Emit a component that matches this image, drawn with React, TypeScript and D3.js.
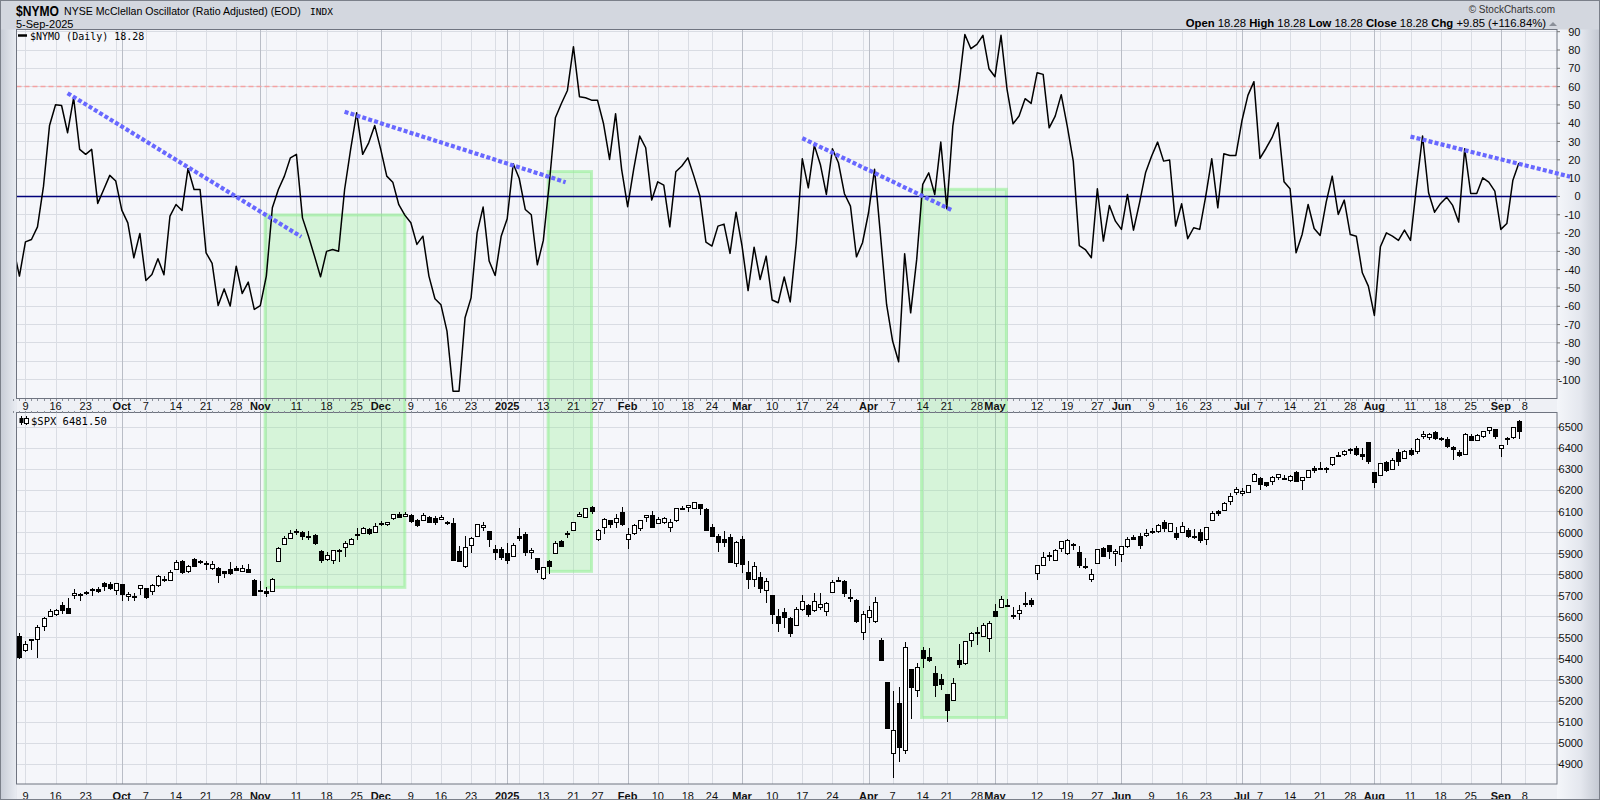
import React from 'react';
import * as d3 from 'd3';

// ---------- DATA ----------
const holidays = ['2024-11-28','2024-12-25','2025-01-01','2025-01-09','2025-01-20','2025-02-17','2025-04-18','2025-05-26','2025-06-19','2025-07-04','2025-09-01'];
const firstDay = '2024-09-05';
const lastAxisDay = '2025-09-08';

// NYSE McClellan Oscillator, one value per trading day from 5-Sep-2024 to 5-Sep-2025
const nymo = [
  -28,-43.5,-24.8,-23.5,-16.6,5.6,38.8,50.1,49.7,34.8,53.9,25.7,23,25.7,-3.8,3.8,11.5,8.4,-7.5,-14.4,
  -33.5,-20.2,-45.9,-42.6,-34,-42.8,-10.7,-4.4,-7.7,15.3,3.8,3.8,-30.8,-36.6,-59.6,-50.5,-59.9,-38.1,-53,-46.8,
  -61.7,-59.6,-43.5,-6.2,3.8,11.1,21.1,23,-11.7,-21.7,-32.6,-43.9,-30,-29,-29.9,3.8,25.7,45.7,23,29.3,
  38.8,25.7,11.1,7.8,-4.5,-10.2,-14.4,-26.2,-21.7,-43.5,-55.9,-59.2,-73.6,-106.4,-106.4,-66.3,-55.4,-19.9,-5.8,-35.3,
  -43.2,-21.7,-12.2,17.9,9.8,-7.1,-10,-37.3,-24,7.5,43,50.8,57.9,81.8,54.5,53.9,52.6,52.5,39.7,20.2,
  45.2,14.8,-5.6,14.8,33,26.6,-2,8,6.2,-16.6,13.5,16.6,21.1,11.1,0.2,-25,-27.1,-16.2,-15.1,-31.1,
  -8.6,-27.1,-51.4,-27.7,-45.4,-32.6,-56.6,-58.1,-44,-57.6,-25.3,20.6,4.7,27.9,17.5,1.1,26,18.4,1.5,-5.3,
  -33,-25.3,-8.9,14.8,-21.7,-59,-79,-90.3,-31.3,-63.6,-34.4,6.6,12.9,1.1,29.7,-6.7,38.4,60.3,88.5,80.7,
  83.1,88,69.8,65.4,88,58.5,39.7,43.9,53.4,50.8,67.6,66.7,37.5,43.9,55.6,38.4,19.3,-26.8,-29,-33.5,
  4.2,-24.4,-4.9,-13.5,-18,1.1,-18.4,-3.5,12.9,22,29.7,19.3,19.9,-16.2,-4,-23.1,-17.1,-18,0.2,20.6,
  -6.2,23.3,22.4,22.4,41.2,55.2,62.7,20.8,26.2,32.1,40.3,8,4.2,-30.8,-20.8,-4.4,-17.5,-21.3,-3.1,11.1,
  -9.8,-2,-20.8,-21.7,-41.7,-49,-65,-27.5,-19.9,-21.7,-24,-18.4,-24,5.6,33,2,-8.6,-3.8,-0.4,-4.9,
  -14,26,1.6,1.6,10.2,7.8,2.9,-18,-14.8,8.9,18.28
];

// S&P 500 daily [open, high, low, close]
const spxSep24 = [[5520,5551,5487,5503],[5507,5522,5402,5408],[5442,5484,5434,5471],[5490,5497,5442,5496],[5496,5560,5406,5554],[5557,5600,5535,5596],[5603,5636,5601,5626],[5615,5636,5604,5633],[5655,5670,5615,5634],[5641,5690,5615,5618],[5703,5733,5686,5713],[5709,5715,5674,5702],[5711,5722,5702,5718],[5727,5735,5698,5732],[5733,5741,5712,5722],[5762,5767,5721,5745],[5755,5764,5727,5738],[5726,5763,5704,5762]];
const spxOct24 = [[5757,5758,5674,5709],[5698,5720,5676,5709],[5698,5714,5674,5700],[5737,5753,5702,5751],[5737,5739,5683,5696],[5725,5755,5704,5751],[5752,5797,5744,5793],[5778,5796,5764,5780],[5775,5822,5775,5815],[5829,5871,5829,5859],[5867,5871,5804,5815],[5816,5846,5808,5843],[5876,5879,5840,5842],[5860,5872,5850,5865],[5857,5866,5824,5853],[5832,5863,5821,5851],[5834,5835,5762,5797],[5817,5817,5784,5809],[5827,5862,5799,5808],[5833,5843,5823,5823],[5819,5847,5811,5832],[5827,5850,5811,5813],[5775,5780,5703,5705]];
const spxNov24 = [[5724,5772,5723,5729],[5725,5741,5696,5712],[5722,5783,5722,5782],[5864,5933,5864,5929],[5947,5983,5946,5973],[5976,6012,5976,5996],[6008,6018,5987,6001],[6003,6010,5966,5984],[5985,6008,5965,5985],[5990,5993,5942,5949],[5912,5916,5854,5871],[5874,5908,5866,5894],[5870,5919,5850,5917],[5917,5920,5860,5917],[5930,5962,5883,5949],[5944,5973,5944,5970],[5992,6021,5963,5987],[6000,6025,5992,6021],[6015,6021,5989,5999],[6004,6045,6004,6032]];
const spxDec24 = [[6040,6053,6033,6047],[6042,6052,6033,6050],[6069,6089,6061,6086],[6089,6099,6074,6075],[6081,6100,6079,6090],[6083,6088,6048,6053],[6058,6065,6027,6034],[6060,6092,6060,6085],[6074,6079,6051,6051],[6068,6078,6035,6051],[6064,6085,6059,6074],[6052,6057,6036,6050],[6048,6070,5867,5872],[5913,5935,5865,5867],[5842,5982,5832,5931],[5940,5978,5902,5974],[5985,6040,5981,6040],[6025,6049,6007,6037],[6006,6006,5932,5971],[5921,5941,5869,5907],[5920,5930,5869,5882]];
const spxJan25 = [[5904,5949,5851,5869],[5891,5949,5888,5942],[5982,6022,5961,5975],[5993,6001,5890,5909],[5910,5927,5874,5918],[5880,5881,5809,5827],[5783,5839,5773,5836],[5863,5871,5805,5842],[5905,5961,5905,5950],[5962,5964,5935,5937],[5993,6007,5976,5997],[6014,6051,6006,6049],[6081,6100,6077,6086],[6076,6119,6075,6119],[6121,6128,6088,6101],[5970,6018,5962,6012],[6026,6070,5994,6067],[6058,6062,6024,6039],[6050,6087,6024,6071],[6096,6121,6031,6041]];
const spxFeb25 = [[5969,6022,5923,5994],[5998,6042,5990,6038],[6020,6062,6008,6061],[6073,6084,6051,6084],[6083,6101,6020,6026],[6046,6073,6046,6066],[6049,6076,6042,6068],[6025,6063,6004,6052],[6060,6116,6051,6115],[6115,6127,6107,6115],[6121,6130,6100,6129],[6118,6147,6111,6144],[6134,6134,6084,6117],[6114,6115,6009,6013],[6027,6043,5977,5983],[5982,5992,5908,5955],[5970,6009,5932,5956],[5981,5994,5858,5862],[5857,5959,5837,5955]];
const spxMar25 = [[5968,5986,5810,5849],[5811,5865,5732,5778],[5782,5860,5742,5843],[5788,5812,5711,5739],[5726,5783,5666,5770],[5705,5705,5565,5614],[5604,5636,5529,5572],[5624,5642,5546,5599],[5594,5598,5505,5522],[5563,5645,5563,5639],[5635,5704,5628,5675],[5655,5659,5599,5615],[5632,5715,5622,5675],[5646,5711,5633,5663],[5630,5670,5603,5668],[5718,5775,5718,5767],[5772,5787,5764,5777],[5771,5775,5694,5712],[5695,5732,5670,5693],[5679,5685,5572,5581],[5527,5627,5488,5612]];
const spxApr25 = [[5598,5650,5573,5633],[5580,5695,5572,5671],[5492,5500,5390,5397],[5292,5292,5069,5074],[4953,5246,4835,5062],[5193,5267,4910,4982],[4966,5481,4949,5457],[5353,5353,5115,5268],[5255,5381,5220,5363],[5441,5459,5358,5406],[5411,5450,5386,5396],[5335,5367,5220,5276],[5305,5328,5255,5283],[5232,5233,5101,5158],[5207,5309,5207,5288],[5395,5470,5359,5376],[5381,5485,5371,5485],[5489,5528,5455,5525],[5529,5554,5468,5529],[5508,5571,5505,5561],[5500,5581,5433,5569]];
const spxMay25 = [[5626,5659,5598,5604],[5645,5700,5645,5687],[5656,5684,5646,5650],[5607,5648,5588,5607],[5616,5655,5587,5631],[5663,5720,5645,5664],[5679,5691,5646,5660],[5808,5844,5777,5844],[5847,5906,5845,5886],[5895,5907,5867,5892],[5869,5924,5868,5916],[5929,5958,5907,5958],[5902,5968,5895,5964],[5944,5953,5919,5940],[5910,5938,5830,5844],[5842,5878,5825,5843],[5782,5829,5767,5802],[5854,5924,5854,5922],[5925,5930,5886,5889],[5939,5943,5875,5912],[5903,5922,5843,5912]];
const spxJun25 = [[5897,5937,5862,5936],[5938,5981,5925,5970],[5978,5990,5966,5971],[5985,5999,5921,5940],[5987,6016,5978,6000],[6004,6021,5994,6006],[6009,6043,6000,6038],[6049,6059,6002,6022],[6010,6045,6003,6045],[5997,6026,5964,5977],[6005,6050,6005,6033],[6013,6024,5975,5982],[5986,6018,5972,5981],[6005,6018,5953,5967],[5970,6026,5943,6025],[6061,6101,6055,6092],[6104,6109,6080,6092],[6107,6146,6104,6141],[6151,6188,6132,6173],[6193,6215,6178,6205]];
const spxJul25 = [[6187,6211,6176,6198],[6193,6227,6188,6227],[6246,6284,6240,6279],[6259,6262,6202,6230],[6241,6242,6217,6226],[6243,6269,6227,6263],[6263,6280,6248,6280],[6256,6275,6252,6260],[6251,6272,6242,6269],[6288,6291,6241,6244],[6250,6266,6201,6264],[6263,6298,6263,6297],[6305,6315,6285,6297],[6305,6336,6303,6305],[6307,6310,6281,6309],[6326,6360,6317,6359],[6368,6382,6360,6363],[6371,6390,6365,6389],[6397,6401,6375,6390],[6404,6410,6366,6371],[6375,6403,6344,6362],[6428,6428,6327,6339]];
const spxAug25 = [[6287,6288,6213,6238],[6272,6330,6272,6330],[6337,6338,6287,6299],[6300,6352,6298,6345],[6382,6395,6318,6340],[6356,6390,6351,6389],[6390,6401,6362,6374],[6389,6447,6375,6446],[6458,6481,6446,6466],[6453,6473,6442,6469],[6478,6481,6441,6450],[6445,6454,6437,6449],[6446,6456,6400,6412],[6408,6410,6343,6396],[6384,6394,6361,6370],[6371,6475,6367,6467],[6458,6467,6439,6440],[6440,6466,6433,6465],[6457,6482,6451,6481],[6487,6502,6467,6502],[6490,6490,6443,6460]];
const spxSep25 = [[6401,6416,6360,6416],[6445,6453,6417,6448],[6456,6502,6445,6502],[6530,6533,6443,6482]];

const nymoTicks = [90,80,70,60,50,40,30,20,10,0,-10,-20,-30,-40,-50,-60,-70,-80,-90,-100];
const spxTicks = [6500,6400,6300,6200,6100,6000,5900,5800,5700,5600,5500,5400,5300,5200,5100,5000,4900];
const overboughtLevel = 60;

// Annotations in data units: trading-day index and oscillator value
const trendLines = [
  { i1: 9.0, v1: 56.4, i2: 47.8, v2: -22 },
  { i1: 55.0, v1: 46.3, i2: 91.7, v2: 7.8 },
  { i1: 131.0, v1: 31.8, i2: 155.8, v2: -7.4 },
  { i1: 232.0, v1: 32.7, i2: 258.5, v2: 10.8 },
];
// highlight boxes: from index i1 to i2, top on NYMO value, bottom on SPX price
const boxes = [
  { i1: 41.8, i2: 65.0, nymoTop: -10.1, spxBottom: 5740 },
  { i1: 88.8, i2: 96.0, nymoTop: 13.6, spxBottom: 5816 },
  { i1: 150.8, i2: 164.9, nymoTop: 3.9, spxBottom: 5122 },
];

const monthNames = ['Jan','Feb','Mar','Apr','May','Jun','Jul','Aug','Sep','Oct','Nov','Dec'];

function buildDays(): Date[] {
  const hol = new Set(holidays);
  const out: Date[] = [];
  const s = new Date(firstDay + 'T00:00:00Z').getTime();
  const e = new Date(lastAxisDay + 'T00:00:00Z').getTime();
  for (let t = s; t <= e; t += 86400000) {
    const d = new Date(t);
    const wd = d.getUTCDay();
    if (wd === 0 || wd === 6) continue;
    if (hol.has(d.toISOString().slice(0, 10))) continue;
    out.push(d);
  }
  return out;
}

const SANS = 'Liberation Sans, Arial, sans-serif';
const MONO = 'DejaVu Sans Mono, monospace';

export default function App() {
  const days = buildDays();
  const spx = [...spxSep24, ...spxOct24, ...spxNov24, ...spxDec24, ...spxJan25, ...spxFeb25, ...spxMar25, ...spxApr25, ...spxMay25, ...spxJun25, ...spxJul25, ...spxAug25, ...spxSep25];

  const PL = 16.5, PR = 1557;
  const TT = 29.5, TB = 398.5;
  const BT = 412.5, BB = 784;
  const step = 6.022;
  const x = d3.scaleLinear().domain([0, days.length - 1]).range([13.4, 13.4 + (days.length - 1) * step]);
  const yT = d3.scaleLinear().domain([-100, 90]).range([379.5, 31.7]);
  const yB = d3.scaleLinear().domain([4900, 6500]).range([764.3, 427.3]);

  type Tick = { i: number; label: string; month: boolean };
  const monthIdx: number[] = [];
  const weekIdx: number[] = [];
  days.forEach((d, i) => {
    if (i === 0) return;
    const p = days[i - 1];
    if (p.getUTCMonth() !== d.getUTCMonth()) monthIdx.push(i);
    else if (d.getUTCDay() < p.getUTCDay()) weekIdx.push(i);
  });
  const ticks: Tick[] = [];
  monthIdx.forEach((i) => {
    const d = days[i];
    ticks.push({ i, month: true, label: d.getUTCMonth() === 0 ? String(d.getUTCFullYear()) : monthNames[d.getUTCMonth()] });
  });
  weekIdx.forEach((i) => {
    const near = monthIdx.some((m) => Math.abs(m - i) <= 2);
    ticks.push({ i, month: false, label: near ? '' : String(days[i].getUTCDate()) });
  });

  const line = d3.line<number>().x((_, i) => x(i)).y((v) => yT(v));
  const nymoPath = line(nymo) || '';

  const gridH = '#d9dce3';
  const gridW = '#dadde4';
  const gridM = '#b9bdc6';
  const plotBg = '#f5f6fa';

  const crisp = (v: number) => Math.round(v) + 0.5;

  return (
    <svg width={1600} height={800} style={{ position: 'absolute', left: 0, top: 0 }} xmlns="http://www.w3.org/2000/svg">
      <defs>
        <linearGradient id="rightAx" x1="0" x2="1" y1="0" y2="0">
          <stop offset="0" stopColor="#f4f6fa" />
          <stop offset="0.55" stopColor="#e4e7ee" />
          <stop offset="1" stopColor="#c3c8d2" />
        </linearGradient>
        <linearGradient id="leftAx" x1="0" x2="1" y1="0" y2="0">
          <stop offset="0" stopColor="#c6cbd5" />
          <stop offset="1" stopColor="#e9ecf2" />
        </linearGradient>
        <clipPath id="clipT"><rect x={PL} y={TT} width={PR - PL} height={TB - TT} /></clipPath>
        <clipPath id="clipB"><rect x={PL} y={BT} width={PR - PL} height={BB - BT} /></clipPath>
      </defs>

      <rect x={0} y={0} width={1600} height={800} fill="#d3d7df" />
      <rect x={0} y={TT} width={PL} height={800 - TT} fill="url(#leftAx)" />
      <rect x={PR} y={TT} width={1600 - PR} height={800 - TT} fill="url(#rightAx)" />
      <rect x={PL} y={TB} width={PR - PL} height={BT - TB} fill="#eef0f5" />
      <rect x={PL} y={BB} width={PR - PL} height={800 - BB} fill="#eef0f5" />

      <rect x={PL} y={TT} width={PR - PL} height={TB - TT} fill={plotBg} />
      <rect x={PL} y={BT} width={PR - PL} height={BB - BT} fill={plotBg} />

      <g shapeRendering="crispEdges">
        {nymoTicks.map((v) => (
          <line key={'th' + v} x1={PL} x2={PR} y1={yT(v)} y2={yT(v)} stroke={gridH} strokeWidth={1} />
        ))}
        {spxTicks.map((v) => (
          <line key={'bh' + v} x1={PL} x2={PR} y1={yB(v)} y2={yB(v)} stroke={gridH} strokeWidth={1} />
        ))}
        {ticks.map((t) => (
          <g key={'v' + t.i}>
            <line x1={crisp(x(t.i))} x2={crisp(x(t.i))} y1={TT} y2={TB} stroke={t.month ? gridM : gridW} strokeWidth={1} />
            <line x1={crisp(x(t.i))} x2={crisp(x(t.i))} y1={BT} y2={BB} stroke={t.month ? gridM : gridW} strokeWidth={1} />
          </g>
        ))}
      </g>

      {boxes.map((b, k) => (
        <rect key={'box' + k} x={x(b.i1)} y={yT(b.nymoTop)} width={x(b.i2) - x(b.i1)} height={yB(b.spxBottom) - yT(b.nymoTop)}
          fill="rgba(144,238,144,0.3)" stroke="rgba(144,238,144,0.55)" strokeWidth={3} />
      ))}

      <g clipPath="url(#clipT)">
        <line x1={PL} x2={PR} y1={yT(overboughtLevel)} y2={yT(overboughtLevel)} stroke="#f4a3a3" strokeWidth={1.5} strokeDasharray="5 3" />
        <line x1={PL} x2={PR} y1={yT(0)} y2={yT(0)} stroke="#00007a" strokeWidth={1.4} />
        <path d={nymoPath} fill="none" stroke="#000" strokeWidth={1.5} strokeLinejoin="round" />
      </g>

      <g clipPath="url(#clipB)" shapeRendering="crispEdges">
        {spx.map((c, i) => {
          const [o, h, l, cl] = c;
          const cx = Math.round(x(i));
          const up = cl >= o;
          const yTop = Math.round(yB(Math.max(o, cl)));
          const yBot = Math.round(yB(Math.min(o, cl)));
          return (
            <g key={'c' + i}>
              <line x1={cx + 0.5} x2={cx + 0.5} y1={yB(h)} y2={yB(l)} stroke="#000" strokeWidth={1} />
              <rect x={cx - 2 + 0.5} y={yTop + 0.5} width={4} height={Math.max(1, yBot - yTop)} fill={up ? '#fff' : '#000'} stroke="#000" strokeWidth={1} />
            </g>
          );
        })}
      </g>

      <rect x={PL} y={TT} width={PR - PL} height={TB - TT} fill="none" stroke="#6f7480" strokeWidth={1} />
      <rect x={PL} y={BT} width={PR - PL} height={BB - BT} fill="none" stroke="#6f7480" strokeWidth={1} />

      <g shapeRendering="crispEdges">
        {days.map((_, i) => (
          <g key={'dt' + i}>
            <line x1={crisp(x(i))} x2={crisp(x(i))} y1={TB} y2={TB + 2} stroke="#8a8f99" />
            <line x1={crisp(x(i))} x2={crisp(x(i))} y1={BT - 2} y2={BT} stroke="#8a8f99" />
          </g>
        ))}
      </g>

      {ticks.filter((t) => t.label).map((t) => (
        <g key={'xl' + t.i}>
          <text x={x(t.i)} y={409.5} textAnchor="middle" fontFamily={SANS} fontSize={11} fontWeight={t.month ? 'bold' : 'normal'} fill="#111">{t.label}</text>
          <text x={x(t.i)} y={799.5} textAnchor="middle" fontFamily={SANS} fontSize={11} fontWeight={t.month ? 'bold' : 'normal'} fill="#111">{t.label}</text>
        </g>
      ))}

      {nymoTicks.map((v) => (
        <g key={'ty' + v}>
          <line x1={PR} x2={PR + 3} y1={yT(v)} y2={yT(v)} stroke="#777" />
          <text x={1580.5} y={yT(v) + 4} textAnchor="end" fontFamily={SANS} fontSize={11} fill="#111">{v}</text>
        </g>
      ))}
      {spxTicks.map((v) => (
        <g key={'by' + v}>
          <line x1={PR} x2={PR + 3} y1={yB(v)} y2={yB(v)} stroke="#777" />
          <text x={1583} y={yB(v) + 4} textAnchor="end" fontFamily={SANS} fontSize={11} fill="#111">{v}</text>
        </g>
      ))}

      {trendLines.map((t, k) => (
        <line key={'tl' + k} x1={x(t.i1)} y1={yT(t.v1)} x2={x(t.i2)} y2={yT(t.v2)} stroke="#6868ff" strokeWidth={4.2} strokeDasharray="4 2.2" />
      ))}

      <line x1={18} x2={27} y1={35.5} y2={35.5} stroke="#000" strokeWidth={2.5} />
      <text x={30} y={39.5} fontFamily={MONO} fontSize={10} fill="#000">$NYMO (Daily) 18.28</text>
      <g>
        <line x1={21.5} x2={21.5} y1={416} y2={425} stroke="#000" />
        <rect x={19.5} y={418} width={4} height={5} fill="#000" />
        <line x1={26.5} x2={26.5} y1={416} y2={425} stroke="#000" />
        <rect x={24.5} y={418.5} width={4} height={5} fill="#fff" stroke="#000" />
      </g>
      <text x={31} y={424.5} fontFamily={MONO} fontSize={10.5} fill="#000">$SPX 6481.50</text>

      <text x={16} y={16} fontFamily={SANS} fontSize={14} fontWeight="bold" fill="#000" textLength={43} lengthAdjust="spacingAndGlyphs">$NYMO</text>
      <text x={64} y={15} fontFamily={SANS} fontSize={10.6} fill="#000">NYSE McClellan Oscillator (Ratio Adjusted) (EOD)</text>
      <text x={310} y={15} fontFamily={MONO} fontSize={9.5} fill="#000">INDX</text>
      <text x={16} y={27.5} fontFamily={SANS} fontSize={11} fill="#000">5-Sep-2025</text>
      <text x={1555} y={13} textAnchor="end" fontFamily={SANS} fontSize={10} fill="#333">© StockCharts.com</text>
      <text x={1546} y={27} textAnchor="end" fontFamily={SANS} fontSize={11.3} fill="#000">
        <tspan fontWeight="bold">Open</tspan><tspan> 18.28 </tspan>
        <tspan fontWeight="bold">High</tspan><tspan> 18.28 </tspan>
        <tspan fontWeight="bold">Low</tspan><tspan> 18.28 </tspan>
        <tspan fontWeight="bold">Close</tspan><tspan> 18.28 </tspan>
        <tspan fontWeight="bold">Chg</tspan><tspan> +9.85 (+116.84%)</tspan>
      </text>
      <path d="M1549,26 L1553,22 L1557,26 Z" fill="#8a8f99" />
      <rect x={0.5} y={0.5} width={1599} height={799} fill="none" stroke="#7b808a" />
    </svg>
  );
}
